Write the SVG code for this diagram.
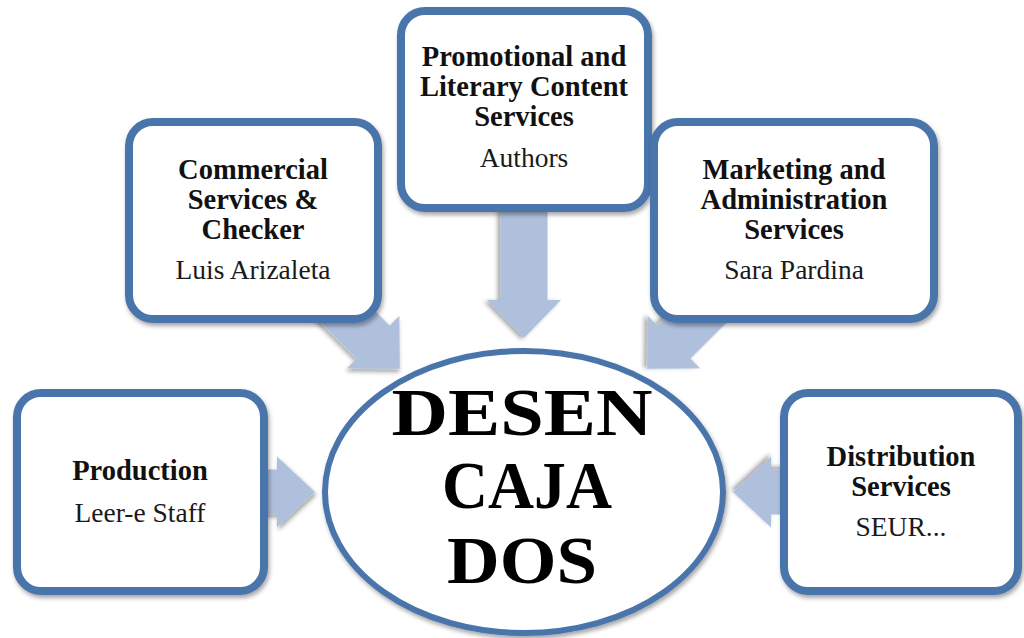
<svg xmlns="http://www.w3.org/2000/svg" width="1024" height="638" viewBox="0 0 1024 638">
  <defs>
    <filter id="shadow" x="-10%" y="-10%" width="125%" height="130%">
      <feDropShadow dx="1.5" dy="3" stdDeviation="2.2" flood-color="#000" flood-opacity="0.35"/>
    </filter>
    <!-- block arrow pointing along +x, tip at the origin -->
    <polygon id="arrow" points="-130,-23.5 -38,-23.5 -38,-37 0,0 -38,37 -38,23.5 -130,23.5"/>
  </defs>
  <style>
    .box { fill: #ffffff; stroke: #4A74AB; stroke-width: 8; filter: url(#shadow); }
    .hub { fill: #ffffff; stroke: #4A74AB; stroke-width: 6; filter: url(#shadow); }
    .conn use { fill: #AFC0DD; filter: url(#shadow); }
    text { font-family: 'Liberation Serif', 'DejaVu Serif', serif; text-anchor: middle; }
    .title { font-weight: bold; font-size: 28.5px; fill: #111; }
    .name { font-size: 27.5px; fill: #1a1a1a; }
    .big { font-weight: bold; font-size: 68px; fill: #000; }
  </style>

  <rect width="1024" height="638" fill="#ffffff"/>

  <!-- connectors: block arrows pointing into the hub -->
  <g id="connectors" class="conn">
    <use href="#arrow" transform="translate(524,338) rotate(90)"/>
    <use href="#arrow" transform="translate(400,369) rotate(45)"/>
    <use href="#arrow" transform="translate(647,369) rotate(135)"/>
    <use href="#arrow" transform="translate(315,492) scale(1,0.96)"/>
    <use href="#arrow" transform="translate(733,492) rotate(180) scale(1,0.96)"/>
  </g>

  <g id="node-commercial">
    <rect class="box" x="129" y="122" width="249" height="197" rx="24"/>
    <text class="title" x="253" y="179">Commercial</text>
    <text class="title" x="253" y="209">Services &amp;</text>
    <text class="title" x="253" y="239">Checker</text>
    <text class="name" x="253" y="279">Luis Arizaleta</text>
  </g>

  <g id="node-promotional">
    <rect class="box" x="401" y="11" width="247" height="197" rx="24"/>
    <text class="title" x="524" y="66">Promotional and</text>
    <text class="title" x="524" y="96">Literary Content</text>
    <text class="title" x="524" y="126">Services</text>
    <text class="name" x="524" y="167">Authors</text>
  </g>

  <g id="node-marketing">
    <rect class="box" x="654" y="122" width="280" height="197" rx="24"/>
    <text class="title" x="794" y="179">Marketing and</text>
    <text class="title" x="794" y="209">Administration</text>
    <text class="title" x="794" y="239">Services</text>
    <text class="name" x="794" y="279">Sara Pardina</text>
  </g>

  <g id="node-production">
    <rect class="box" x="17" y="393" width="247" height="198" rx="24"/>
    <text class="title" x="140" y="480">Production</text>
    <text class="name" x="140" y="522">Leer-e Staff</text>
  </g>

  <g id="node-distribution">
    <rect class="box" x="784" y="393" width="234" height="198" rx="24"/>
    <text class="title" x="901" y="466">Distribution</text>
    <text class="title" x="901" y="496">Services</text>
    <text class="name" x="901" y="536">SEUR...</text>
  </g>

  <g id="node-hub">
    <ellipse class="hub" cx="524" cy="492" rx="199" ry="141"/>
    <text class="big" x="522" y="435" textLength="261" lengthAdjust="spacingAndGlyphs">DESEN</text>
    <text class="big" x="527" y="508" textLength="170" lengthAdjust="spacingAndGlyphs">CAJA</text>
    <text class="big" x="522" y="583" textLength="150" lengthAdjust="spacingAndGlyphs">DOS</text>
  </g>
</svg>
